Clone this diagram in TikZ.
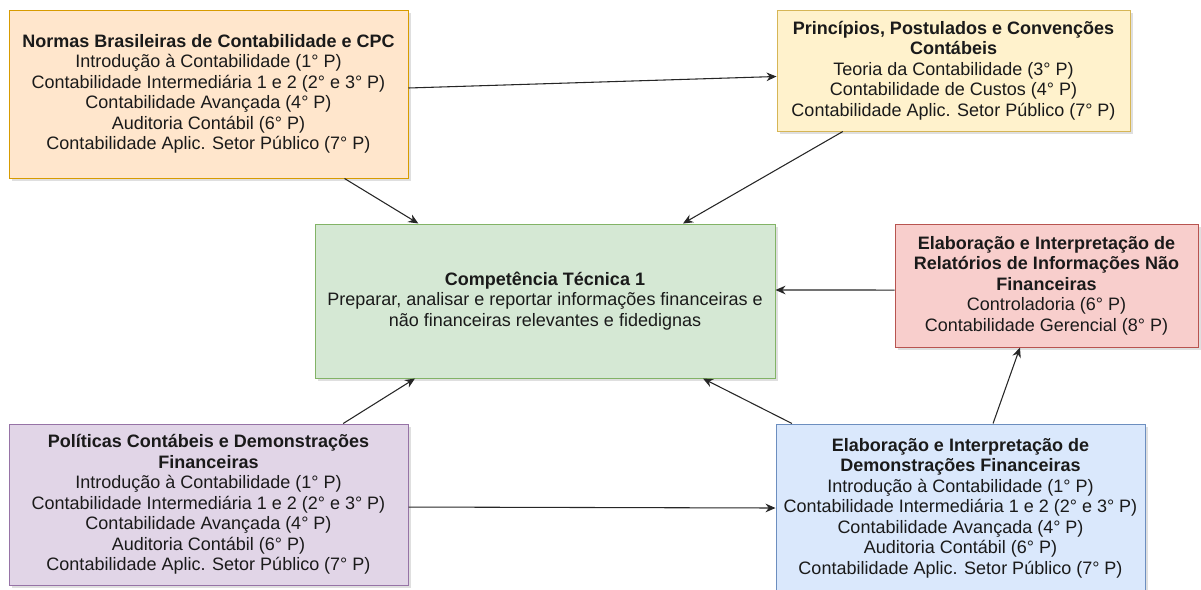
\documentclass[tikz,border=0pt]{standalone}
\usepackage{fontspec}
\setmainfont{Liberation Sans}
\usepackage{tikz}
\usetikzlibrary{arrows.meta,shadows}

\definecolor{orangefill}{HTML}{FFE6CC}\definecolor{orangeline}{HTML}{D79B00}
\definecolor{yellowfill}{HTML}{FFF2CC}\definecolor{yellowline}{HTML}{D6B656}
\definecolor{greenfill}{HTML}{D5E8D4}\definecolor{greenline}{HTML}{82B366}
\definecolor{redfill}{HTML}{F8CECC}\definecolor{redline}{HTML}{B85450}
\definecolor{purplefill}{HTML}{E1D5E7}\definecolor{purpleline}{HTML}{9673A6}
\definecolor{bluefill}{HTML}{DAE8FC}\definecolor{blueline}{HTML}{6C8EBF}
\definecolor{textgray}{HTML}{1A1A1A}

\tikzset{
    box/.style={shape=rectangle, align=center, inner sep=0pt, line width=0.75pt,
        text=textgray, font=\fontsize{13.5}{15.4}\selectfont,
        drop shadow={shadow xshift=2pt, shadow yshift=-2pt, opacity=0.25}},
    link/.style={-{Stealth[length=7.5pt,width=6.5pt]}, line width=0.8pt, color=black!85}
}

\begin{document}
\begin{tikzpicture}[x=0.75pt, y=-0.75pt]
    	\useasboundingbox (0,0) rectangle (1201,589);
    	
    	\node[box, fill=orangefill, draw=orangeline, minimum width=299.25pt, minimum height=126pt] (normas) at (208.5, 94)
    	    {\textbf{Normas Brasileiras de Contabilidade e CPC}\\
    	     Introdução à Contabilidade (1° P)\\
    	     Contabilidade Intermediária 1 e 2 (2° e 3° P)\\
    	     Contabilidade Avançada (4° P)\\
    	     Auditoria Contábil (6° P)\\
    	     Contabilidade Aplic. Setor Público (7° P)};
    	\node[box, fill=yellowfill, draw=yellowline, minimum width=264.75pt, minimum height=90.75pt] (principios) at (953.5, 70.5)
    	    {\textbf{Princípios, Postulados e Convenções}\\
    	     \textbf{Contábeis}\\
    	     Teoria da Contabilidade (3° P)\\
    	     Contabilidade de Custos (4° P)\\
    	     Contabilidade Aplic. Setor Público (7° P)};
    	\node[box, fill=greenfill, draw=greenline, minimum width=345pt, minimum height=115.5pt] (competencia) at (545, 301)
    	    {\textbf{Competência Técnica 1}\\
    	     Preparar, analisar e reportar informações financeiras e\\
    	     não financeiras relevantes e fidedignas};
    	\node[box, fill=redfill, draw=redline, minimum width=227.25pt, minimum height=92.25pt] (relatorios) at (1046.5, 285.5)
    	    {\textbf{Elaboração e Interpretação de}\\
    	     \textbf{Relatórios de Informações Não}\\
    	     \textbf{Financeiras}\\
    	     Controladoria (6° P)\\
    	     Contabilidade Gerencial (8° P)};
    	\node[box, fill=purplefill, draw=purpleline, minimum width=299.25pt, minimum height=120.75pt] (politicas) at (208.5, 504.5)
    	    {\textbf{Políticas Contábeis e Demonstrações}\\
    	     \textbf{Financeiras}\\
    	     Introdução à Contabilidade (1° P)\\
    	     Contabilidade Intermediária 1 e 2 (2° e 3° P)\\
    	     Contabilidade Avançada (4° P)\\
    	     Auditoria Contábil (6° P)\\
    	     Contabilidade Aplic. Setor Público (7° P)};
    	\node[box, fill=bluefill, draw=blueline, minimum width=276.75pt, minimum height=126pt] (demonstracoes) at (960.5, 508)
    	    {\textbf{Elaboração e Interpretação de}\\
    	     \textbf{Demonstrações Financeiras}\\
    	     Introdução à Contabilidade (1° P)\\
    	     Contabilidade Intermediária 1 e 2 (2° e 3° P)\\
    	     Contabilidade Avançada (4° P)\\
    	     Auditoria Contábil (6° P)\\
    	     Contabilidade Aplic. Setor Público (7° P)};
    	
    	\path[link] ([yshift=4.5pt]normas.east) edge ([yshift=-4.5pt]principios.west);
    	\path[link] ([xshift=102pt]normas.south) edge ([xshift=-95pt]competencia.north);
    	\path[link] ([xshift=-83pt]principios.south) edge ([xshift=103.5pt]competencia.north);
    	\path[link] ([yshift=-3.4pt]relatorios.west) edge ([yshift=8.25pt]competencia.east);
    	\path[link] ([xshift=101pt]politicas.north) edge ([xshift=-97.5pt]competencia.south);
    	\path[link] ([xshift=-126.4pt]demonstracoes.north) edge ([xshift=118.5pt]competencia.south);
    	\path[link] ([xshift=24.4pt]demonstracoes.north) edge ([xshift=-19.9pt]relatorios.south);
    	\path[link] ([yshift=-1.9pt]politicas.east) edge (demonstracoes.west);
    
    	
\end{tikzpicture}
\end{document}
